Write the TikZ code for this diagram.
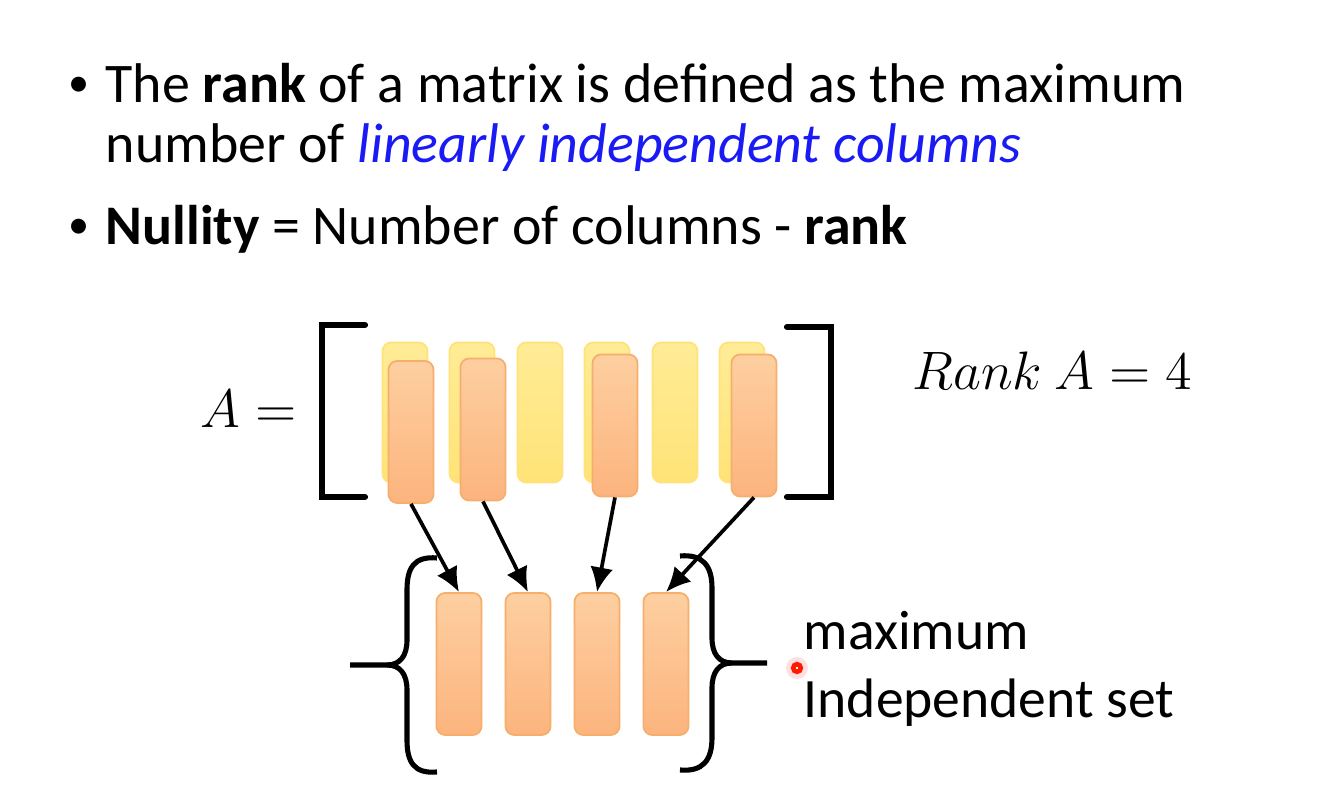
\RequirePackage{fix-cm}
\documentclass[tikz,border=0pt]{standalone}
\usepackage{fontspec}
\setmainfont{Carlito}
\usetikzlibrary{arrows.meta}
\definecolor{colyellowtop}{HTML}{FFEC96}
\definecolor{colyellowbot}{HTML}{FFE377}
\definecolor{colyellowline}{HTML}{FFE27A}
\definecolor{colorangetop}{HTML}{FDCFA0}
\definecolor{colorangebot}{HTML}{FCB47E}
\definecolor{colorangeline}{HTML}{F7AE6C}
\definecolor{colblue}{HTML}{1A1AF5}
\begin{document}
\begin{tikzpicture}[x=0.01cm, y=-0.01cm,
    bodytext/.style={anchor=base west, inner sep=0pt, font=\fontsize{15.9}{19}\selectfont},
    mathtext/.style={anchor=base west, inner sep=0pt, font=\fontsize{15.4}{18}\selectfont},
    sidetext/.style={anchor=base west, inner sep=0pt, font=\fontsize{15.8}{18}\selectfont},
    ycol/.style={rectangle, rounded corners=2.5pt, draw=colyellowline, line width=0.5pt, top color=colyellowtop, bottom color=colyellowbot, minimum width=0.45cm, minimum height=1.4cm, inner sep=0pt},
    ocol/.style={rectangle, rounded corners=2.5pt, draw=colorangeline, line width=0.5pt, top color=colorangetop, bottom color=colorangebot, minimum width=0.45cm, minimum height=1.42cm, inner sep=0pt},
    bracket/.style={line width=1.75pt, line cap=round},
    curly/.style={line width=1.45pt},
    pick/.style={-{Latex[length=7pt,width=6.5pt]}, line width=1.05pt}]

\useasboundingbox (0,0) rectangle (1332,798);

\node[anchor=base west, inner sep=0pt, font=\fontsize{12}{14}\selectfont] (dot1) at (68,97) {\textbullet};
\node[bodytext] (line1) at (105,103) {The \textbf{rank} of a matrix is defined as the maximum};
\node[bodytext] (line2) at (105,163) {number of \textcolor{colblue}{\itshape linearly independent columns}};
\node[anchor=base west, inner sep=0pt, font=\fontsize{12}{14}\selectfont] (dot2) at (68,239) {\textbullet};
\node[bodytext] (line3) at (105,245) {\textbf{Nullity} = Number of columns - \textbf{rank}};

\node[mathtext] (lhs) at (200,428) {$A=$};
\node[mathtext] (rank) at (912,390) {$Rank\ A=4$};

\begin{scope}[]
\draw[bracket] (365,325) -- (322,325) -- (322,497) -- (365,497);
\draw[bracket] (787,327) -- (831,327) -- (831,497) -- (787,497);
\end{scope}

\node[ycol] (y1) at (405,412.5) {};
\node[ycol] (y2) at (472,412.5) {};
\node[ycol] (y3) at (540,412.5) {};
\node[ycol] (y4) at (607,412.5) {};
\node[ycol] (y5) at (675,412.5) {};
\node[ycol] (y6) at (742,412.5) {};

\node[ocol] (o1) at (411,432) {};
\node[ocol] (o2) at (483,429.5) {};
\node[ocol] (o4) at (615,425.5) {};
\node[ocol] (o6) at (754,425.5) {};

\node[ocol] (b1) at (459,664) {};
\node[ocol] (b2) at (528,664) {};
\node[ocol] (b3) at (597,664) {};
\node[ocol] (b4) at (666,664) {};

\draw[pick] (o1.south) -- (b1.north);
\draw[pick] (o2.south) -- (b2.north);
\draw[pick] (o4.south) -- (b3.north);
\draw[pick] (o6.south) -- (b4.north);

\begin{scope}[]
\draw[curly] (437,558) .. controls (414,556) and (407,568) .. (407,590) -- (407,640) .. controls (407,656) and (400,665) .. (387,665) -- (350,665);
\draw[curly] (437,772) .. controls (414,774) and (407,762) .. (407,740) -- (407,690) .. controls (407,674) and (400,665) .. (387,665);
\end{scope}
\begin{scope}[]
\draw[curly] (680,556) .. controls (703,554) and (712,566) .. (712,588) -- (712,638) .. controls (712,654) and (719,663) .. (732,663) -- (767,663);
\draw[curly] (680,770) .. controls (703,772) and (712,760) .. (712,738) -- (712,688) .. controls (712,672) and (719,663) .. (732,663);
\end{scope}

\node[sidetext] (setname1) at (803,650) {maximum};
\node[sidetext] (setname2) at (803,718) {Independent set};

\fill[red!20, opacity=0.6] (797,668) circle (11);
\draw[fill=white, draw=red!80!orange, line width=1.3pt] (797,668) circle (3.8);
\end{tikzpicture}
\end{document}
